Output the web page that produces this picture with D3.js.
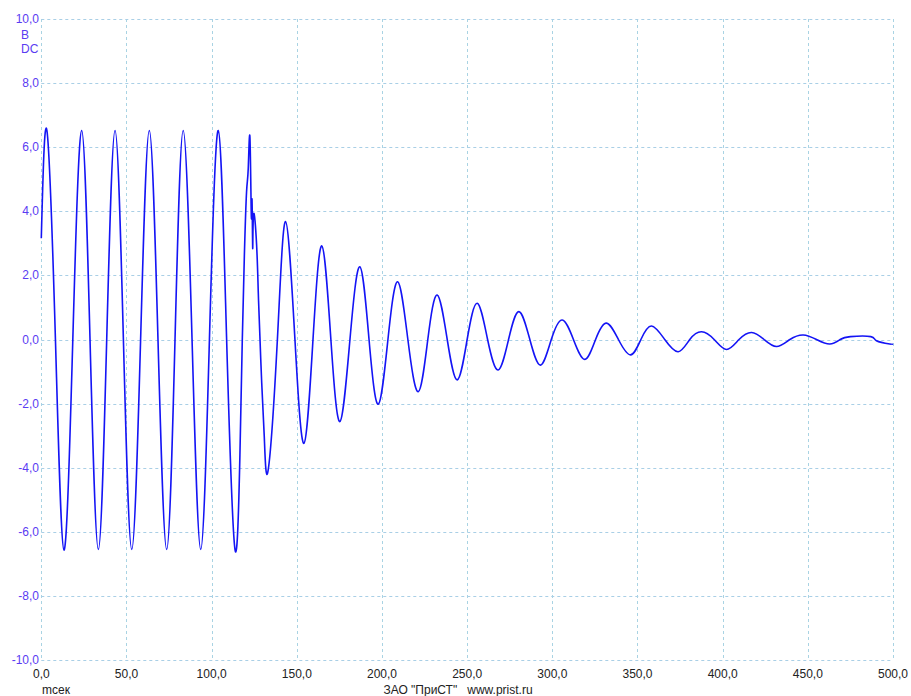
<!DOCTYPE html>
<html>

<head>
    <title>Осциллограмма</title>
    <meta charset="utf-8">
    <script src="https://d3js.org/d3.v7.min.js"></script>
    <style>
        body { margin: 0; background: #fff; }
        text { font-family: "Liberation Sans", Arial, sans-serif; font-size: 12px; }
    </style>
</head>

<body>
    <div id="scope"></div>
</body>

<script>

    // time, ms / voltage, V
    // steady 50 Hz part, then the spike
    let steadyT = [0, 3.3, 8.3, 13.3, 18.5, 23.7, 28.6, 33.5, 38.4, 43.3, 48.2, 53.1, 58.3, 63.4,
        68.5, 73.6, 78.5, 83.3, 88.5, 93.6, 98.7, 103.9, 108.8, 113.7, 116.6, 118.0, 119.2, 120.5,
        121.5, 122.5, 123.3, 123.7, 124.1, 124.6, 126.4, 127.4, 128.4, 129.4, 130.9];
    let steadyV = [3.16, 6.52, 0, -6.57, 0, 6.52, 0, -6.55, 0, 6.52, 0, -6.55, 0, 6.52,
        0, -6.55, 0, 6.52, 0, -6.55, 0, 6.52, 0, -6.55, -3.6, 0, 2.6, 4.61,
        5.35, 6.28, 3.83, 4.38, 2.85, 3.9, 2.95, 1.44, 0, -1.36, -3.03];

    // decaying part
    let decayT = [133.2, 138.6, 143.4, 148.9, 154.2, 159.5, 164.7, 170.0, 175.3, 181.2, 187.0,
        192.4, 197.8, 203.5, 209.2, 215.2, 221.3, 226.9, 232.4, 238.3, 244.2, 250.0, 255.9,
        262.0, 268.2, 274.3, 280.4, 286.8, 293.1, 299.4, 305.8, 312.4, 319.1, 325.4, 331.8,
        338.8, 345.9, 352.0, 358.2, 366.0, 373.9, 380.7, 387.6, 395.0, 402.3, 409.6, 417.0,
        424.3, 431.7, 439.5, 447.3, 455.1, 462.9, 469.0, 475.0, 487.0, 490.3, 498.1, 499.5];
    let decayV = [-4.07, 0, 3.68, 0, -3.24, 0, 2.92, 0, -2.56, 0, 2.27,
        0, -2.02, 0, 1.80, 0, -1.63, 0, 1.39, 0, -1.26, 0, 1.13,
        0, -0.95, 0, 0.87, 0, -0.80, 0, 0.61, 0, -0.62, 0, 0.51,
        0, -0.48, 0, 0.42, 0, -0.38, 0, 0.24, 0, -0.31, 0, 0.22,
        0, -0.22, 0, 0.14, 0, -0.14, 0, 0.09, 0.09, -0.04, -0.14, -0.14];

    let xTicks = [0, 50, 100, 150, 200, 250, 300, 350, 400, 450, 500];
    let yTicks = [-10, -8, -6, -4, -2, 0, 2, 4, 6, 8, 10];
    let yUnits = ["B", "DC"];
    let xUnit = "mсек";
    let footer = "ЗАО \"ПриСТ\"   www.prist.ru";

    let W = 911, H = 696;
    let pLeft = 41.3, pRight = 893, pTop = 19, pBottom = 660;

    let svg = d3.select("#scope")
        .append("svg")
            .attr("width", W)
            .attr("height", H);

    let x = d3.scaleLinear().domain([0, 500]).range([pLeft, pRight]);
    let y = d3.scaleLinear().domain([-10, 10]).range([pBottom, pTop]);
    let fmt = v => d3.format(".1f")(v).replace(".", ",").replace("−", "-");

    // dashed grid (also makes the frame)
    svg.append("g")
        .selectAll("line")
        .data(xTicks)
        .join("line")
            .attr("x1", d => Math.round(x(d)) + 0.5)
            .attr("x2", d => Math.round(x(d)) + 0.5)
            .attr("y1", pTop)
            .attr("y2", pBottom)
            .attr("stroke", "#a9d3e3")
            .attr("stroke-dasharray", "3,3");

    svg.append("g")
        .selectAll("line")
        .data(yTicks)
        .join("line")
            .attr("x1", pLeft)
            .attr("x2", pRight)
            .attr("y1", d => Math.round(y(d)) + 0.5)
            .attr("y2", d => Math.round(y(d)) + 0.5)
            .attr("stroke", "#a9cfe6")
            .attr("stroke-dasharray", "3,3");

    // y labels
    svg.append("g")
        .selectAll("text")
        .data(yTicks)
        .join("text")
            .attr("x", 39)
            .attr("y", d => y(d) + 4)
            .attr("text-anchor", "end")
            .attr("fill", "#5a3cf2")
            .text(d => fmt(d));

    svg.append("g")
        .selectAll("text")
        .data(yUnits)
        .join("text")
            .attr("x", 21)
            .attr("y", (d, i) => 39 + i * 14)
            .attr("fill", "#5a3cf2")
            .text(d => d);

    // x labels
    svg.append("g")
        .selectAll("text")
        .data(xTicks)
        .join("text")
            .attr("x", d => x(d))
            .attr("y", 678)
            .attr("text-anchor", "middle")
            .attr("fill", "#222")
            .text(d => fmt(d));

    svg.append("text")
        .attr("x", 42)
        .attr("y", 694)
        .attr("fill", "#222")
        .text(xUnit);

    svg.append("text")
        .attr("x", 458)
        .attr("y", 694)
        .attr("text-anchor", "middle")
        .attr("fill", "#222")
        .attr("xml:space", "preserve")
        .style("white-space", "pre")
        .text(footer);

    // the signal
    let data = steadyT.map((t, i) => [t, steadyV[i]])
        .concat(decayT.map((t, i) => [t, decayV[i]]));

    let line = d3.line()
        .x(d => x(d[0]))
        .y(d => y(d[1]))
        .curve(d3.curveNatural);

    svg.append("path")
        .datum(data)
        .attr("d", line)
        .attr("fill", "none")
        .attr("stroke", "#1414f5")
        .attr("stroke-width", 1.6)
        .attr("stroke-linejoin", "round");

</script>

</html>
